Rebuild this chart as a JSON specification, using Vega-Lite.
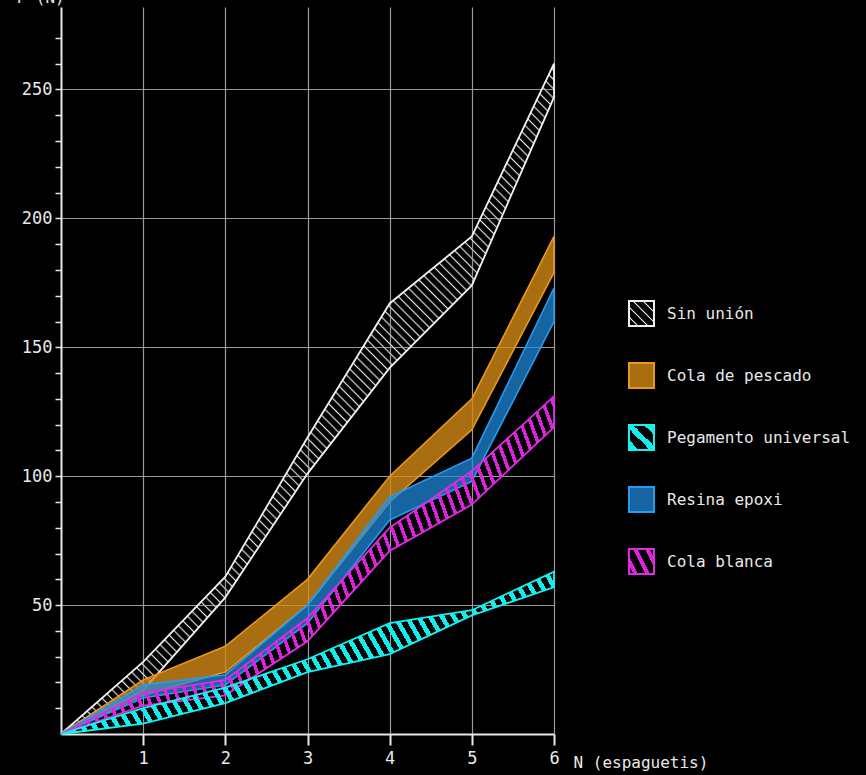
{
  "$schema": "https://vega.github.io/schema/vega-lite/v6.json",
  "width": 493,
  "height": 727,
  "autosize": {"type": "none"},
  "padding": {"left": 61, "top": 7, "right": 312, "bottom": 41},
  "background": "#000000",
  "config": {"view": {"stroke": null}, "font": "DejaVu Sans Mono"},
  "data": {
    "values": [
      {"serie": "Sin unión", "n": 0, "lo": 0, "hi": 0},
      {"serie": "Sin unión", "n": 1, "lo": 17, "hi": 28},
      {"serie": "Sin unión", "n": 2, "lo": 53, "hi": 61},
      {"serie": "Sin unión", "n": 3, "lo": 101, "hi": 115},
      {"serie": "Sin unión", "n": 4, "lo": 142, "hi": 167},
      {"serie": "Sin unión", "n": 5, "lo": 174, "hi": 193},
      {"serie": "Sin unión", "n": 6, "lo": 247, "hi": 260},
      {"serie": "Cola de pescado", "n": 0, "lo": 0, "hi": 0},
      {"serie": "Cola de pescado", "n": 1, "lo": 15, "hi": 21},
      {"serie": "Cola de pescado", "n": 2, "lo": 24, "hi": 34},
      {"serie": "Cola de pescado", "n": 3, "lo": 50, "hi": 60},
      {"serie": "Cola de pescado", "n": 4, "lo": 90, "hi": 100},
      {"serie": "Cola de pescado", "n": 5, "lo": 118, "hi": 130},
      {"serie": "Cola de pescado", "n": 6, "lo": 179, "hi": 193},
      {"serie": "Pegamento universal", "n": 0, "lo": 0, "hi": 0},
      {"serie": "Pegamento universal", "n": 1, "lo": 4, "hi": 10},
      {"serie": "Pegamento universal", "n": 2, "lo": 12, "hi": 18},
      {"serie": "Pegamento universal", "n": 3, "lo": 24, "hi": 29},
      {"serie": "Pegamento universal", "n": 4, "lo": 31, "hi": 43},
      {"serie": "Pegamento universal", "n": 5, "lo": 46, "hi": 48},
      {"serie": "Pegamento universal", "n": 6, "lo": 57, "hi": 63},
      {"serie": "Resina epoxi", "n": 0, "lo": 0, "hi": 0},
      {"serie": "Resina epoxi", "n": 1, "lo": 14, "hi": 19},
      {"serie": "Resina epoxi", "n": 2, "lo": 19, "hi": 23},
      {"serie": "Resina epoxi", "n": 3, "lo": 43, "hi": 50},
      {"serie": "Resina epoxi", "n": 4, "lo": 83, "hi": 92},
      {"serie": "Resina epoxi", "n": 5, "lo": 98, "hi": 107},
      {"serie": "Resina epoxi", "n": 6, "lo": 160, "hi": 173},
      {"serie": "Cola blanca", "n": 0, "lo": 0, "hi": 0},
      {"serie": "Cola blanca", "n": 1, "lo": 11, "hi": 16},
      {"serie": "Cola blanca", "n": 2, "lo": 15, "hi": 21},
      {"serie": "Cola blanca", "n": 3, "lo": 36, "hi": 45},
      {"serie": "Cola blanca", "n": 4, "lo": 71, "hi": 80},
      {"serie": "Cola blanca", "n": 5, "lo": 89, "hi": 102},
      {"serie": "Cola blanca", "n": 6, "lo": 119, "hi": 131}
    ]
  },
  "encoding": {
    "x": {
      "field": "n",
      "type": "quantitative",
      "scale": {"domain": [0, 6], "nice": false},
      "axis": {
        "values": [1, 2, 3, 4, 5, 6],
        "grid": true,
        "gridColor": "#9a9a9a",
        "gridWidth": 1.2,
        "domainColor": "#e8e8e8",
        "domainWidth": 2,
        "tickColor": "#e8e8e8",
        "tickWidth": 2,
        "tickSize": 11,
        "labelColor": "#e8e8e8",
        "labelFont": "DejaVu Sans Mono",
        "labelFontSize": 17,
        "labelPadding": 5,
        "labelFlush": false,
        "labelOverlap": false,
        "title": "N (espaguetis)",
        "titleFont": "DejaVu Sans Mono",
        "titleFontSize": 16,
        "titleFontWeight": "normal",
        "titleColor": "#e8e8e8",
        "titleX": 512,
        "titleY": 33,
        "titleAlign": "left",
        "titleBaseline": "alphabetic"
      }
    },
    "y": {
      "field": "hi",
      "type": "quantitative",
      "scale": {"domain": [0, 282], "nice": false},
      "axis": {
        "values": [10, 20, 30, 40, 50, 60, 70, 80, 90, 100, 110, 120, 130, 140, 150, 160, 170, 180, 190, 200, 210, 220, 230, 240, 250, 260, 270],
        "grid": true,
        "gridColor": "#9a9a9a",
        "gridWidth": 1.2,
        "gridOpacity": {"condition": {"test": "datum.value % 50 === 0", "value": 1}, "value": 0},
        "domainColor": "#e8e8e8",
        "domainWidth": 2,
        "tickColor": "#e8e8e8",
        "tickWidth": 1.5,
        "tickSize": 6,
        "labelExpr": "datum.value % 50 === 0 ? datum.label : ''",
        "labelColor": "#e8e8e8",
        "labelFont": "DejaVu Sans Mono",
        "labelFontSize": 17,
        "labelPadding": 3,
        "labelFlush": false,
        "labelOverlap": false,
        "title": "F (N)",
        "titleFont": "DejaVu Sans Mono",
        "titleFontSize": 16,
        "titleFontWeight": "normal",
        "titleColor": "#e8e8e8",
        "titleAngle": 0,
        "titleX": -45,
        "titleY": -5,
        "titleAlign": "left",
        "titleBaseline": "alphabetic"
      }
    }
  },
  "layer": [
    {
      "transform": [{"filter": "datum.serie === 'Sin unión'"}],
      "encoding": {"y2": {"field": "lo"}},
      "mark": {
        "type": "area",
        "stroke": "#f0f0f0",
        "strokeWidth": 1.8,
        "fill": {
          "gradient": "linear", "x1": 0, "y1": 1, "x2": 0.8273, "y2": -0.1268,
          "stops": [
            {"offset":0,"color":"#0000"},{"offset":0.002,"color":"#eee"},{"offset":0.004,"color":"#0000"},
            {"offset":0.008,"color":"#0000"},{"offset":0.01,"color":"#eee"},{"offset":0.012,"color":"#0000"},
            {"offset":0.016,"color":"#0000"},{"offset":0.018,"color":"#eee"},{"offset":0.02,"color":"#0000"},
            {"offset":0.024,"color":"#0000"},{"offset":0.026,"color":"#eee"},{"offset":0.028,"color":"#0000"},
            {"offset":0.032,"color":"#0000"},{"offset":0.034,"color":"#eee"},{"offset":0.036,"color":"#0000"},
            {"offset":0.04,"color":"#0000"},{"offset":0.042,"color":"#eee"},{"offset":0.044,"color":"#0000"},
            {"offset":0.048,"color":"#0000"},{"offset":0.05,"color":"#eee"},{"offset":0.052,"color":"#0000"},
            {"offset":0.056,"color":"#0000"},{"offset":0.058,"color":"#eee"},{"offset":0.06,"color":"#0000"},
            {"offset":0.064,"color":"#0000"},{"offset":0.066,"color":"#eee"},{"offset":0.068,"color":"#0000"},
            {"offset":0.072,"color":"#0000"},{"offset":0.074,"color":"#eee"},{"offset":0.076,"color":"#0000"},
            {"offset":0.08,"color":"#0000"},{"offset":0.082,"color":"#eee"},{"offset":0.084,"color":"#0000"},
            {"offset":0.088,"color":"#0000"},{"offset":0.09,"color":"#eee"},{"offset":0.092,"color":"#0000"},
            {"offset":0.096,"color":"#0000"},{"offset":0.098,"color":"#eee"},{"offset":0.1,"color":"#0000"},
            {"offset":0.104,"color":"#0000"},{"offset":0.106,"color":"#eee"},{"offset":0.108,"color":"#0000"},
            {"offset":0.112,"color":"#0000"},{"offset":0.114,"color":"#eee"},{"offset":0.116,"color":"#0000"},
            {"offset":0.12,"color":"#0000"},{"offset":0.122,"color":"#eee"},{"offset":0.124,"color":"#0000"},
            {"offset":0.128,"color":"#0000"},{"offset":0.13,"color":"#eee"},{"offset":0.132,"color":"#0000"},
            {"offset":0.136,"color":"#0000"},{"offset":0.138,"color":"#eee"},{"offset":0.14,"color":"#0000"},
            {"offset":0.144,"color":"#0000"},{"offset":0.146,"color":"#eee"},{"offset":0.148,"color":"#0000"},
            {"offset":0.152,"color":"#0000"},{"offset":0.154,"color":"#eee"},{"offset":0.156,"color":"#0000"},
            {"offset":0.16,"color":"#0000"},{"offset":0.162,"color":"#eee"},{"offset":0.164,"color":"#0000"},
            {"offset":0.168,"color":"#0000"},{"offset":0.17,"color":"#eee"},{"offset":0.172,"color":"#0000"},
            {"offset":0.176,"color":"#0000"},{"offset":0.178,"color":"#eee"},{"offset":0.18,"color":"#0000"},
            {"offset":0.184,"color":"#0000"},{"offset":0.186,"color":"#eee"},{"offset":0.188,"color":"#0000"},
            {"offset":0.192,"color":"#0000"},{"offset":0.194,"color":"#eee"},{"offset":0.196,"color":"#0000"},
            {"offset":0.2,"color":"#0000"},{"offset":0.202,"color":"#eee"},{"offset":0.204,"color":"#0000"},
            {"offset":0.208,"color":"#0000"},{"offset":0.21,"color":"#eee"},{"offset":0.212,"color":"#0000"},
            {"offset":0.216,"color":"#0000"},{"offset":0.218,"color":"#eee"},{"offset":0.22,"color":"#0000"},
            {"offset":0.224,"color":"#0000"},{"offset":0.226,"color":"#eee"},{"offset":0.228,"color":"#0000"},
            {"offset":0.232,"color":"#0000"},{"offset":0.234,"color":"#eee"},{"offset":0.236,"color":"#0000"},
            {"offset":0.24,"color":"#0000"},{"offset":0.242,"color":"#eee"},{"offset":0.244,"color":"#0000"},
            {"offset":0.248,"color":"#0000"},{"offset":0.25,"color":"#eee"},{"offset":0.252,"color":"#0000"},
            {"offset":0.256,"color":"#0000"},{"offset":0.258,"color":"#eee"},{"offset":0.26,"color":"#0000"},
            {"offset":0.264,"color":"#0000"},{"offset":0.266,"color":"#eee"},{"offset":0.268,"color":"#0000"},
            {"offset":0.272,"color":"#0000"},{"offset":0.274,"color":"#eee"},{"offset":0.276,"color":"#0000"},
            {"offset":0.28,"color":"#0000"},{"offset":0.282,"color":"#eee"},{"offset":0.284,"color":"#0000"},
            {"offset":0.288,"color":"#0000"},{"offset":0.29,"color":"#eee"},{"offset":0.292,"color":"#0000"},
            {"offset":0.296,"color":"#0000"},{"offset":0.298,"color":"#eee"},{"offset":0.3,"color":"#0000"},
            {"offset":0.304,"color":"#0000"},{"offset":0.306,"color":"#eee"},{"offset":0.308,"color":"#0000"},
            {"offset":0.312,"color":"#0000"},{"offset":0.314,"color":"#eee"},{"offset":0.316,"color":"#0000"},
            {"offset":0.32,"color":"#0000"},{"offset":0.322,"color":"#eee"},{"offset":0.324,"color":"#0000"},
            {"offset":0.328,"color":"#0000"},{"offset":0.33,"color":"#eee"},{"offset":0.332,"color":"#0000"},
            {"offset":0.336,"color":"#0000"},{"offset":0.338,"color":"#eee"},{"offset":0.34,"color":"#0000"},
            {"offset":0.344,"color":"#0000"},{"offset":0.346,"color":"#eee"},{"offset":0.348,"color":"#0000"},
            {"offset":0.352,"color":"#0000"},{"offset":0.354,"color":"#eee"},{"offset":0.356,"color":"#0000"},
            {"offset":0.36,"color":"#0000"},{"offset":0.362,"color":"#eee"},{"offset":0.364,"color":"#0000"},
            {"offset":0.368,"color":"#0000"},{"offset":0.37,"color":"#eee"},{"offset":0.372,"color":"#0000"},
            {"offset":0.376,"color":"#0000"},{"offset":0.378,"color":"#eee"},{"offset":0.38,"color":"#0000"},
            {"offset":0.384,"color":"#0000"},{"offset":0.386,"color":"#eee"},{"offset":0.388,"color":"#0000"},
            {"offset":0.392,"color":"#0000"},{"offset":0.394,"color":"#eee"},{"offset":0.396,"color":"#0000"},
            {"offset":0.4,"color":"#0000"},{"offset":0.402,"color":"#eee"},{"offset":0.404,"color":"#0000"},
            {"offset":0.408,"color":"#0000"},{"offset":0.41,"color":"#eee"},{"offset":0.412,"color":"#0000"},
            {"offset":0.416,"color":"#0000"},{"offset":0.418,"color":"#eee"},{"offset":0.42,"color":"#0000"},
            {"offset":0.424,"color":"#0000"},{"offset":0.426,"color":"#eee"},{"offset":0.428,"color":"#0000"},
            {"offset":0.432,"color":"#0000"},{"offset":0.434,"color":"#eee"},{"offset":0.436,"color":"#0000"},
            {"offset":0.44,"color":"#0000"},{"offset":0.442,"color":"#eee"},{"offset":0.444,"color":"#0000"},
            {"offset":0.448,"color":"#0000"},{"offset":0.45,"color":"#eee"},{"offset":0.452,"color":"#0000"},
            {"offset":0.456,"color":"#0000"},{"offset":0.458,"color":"#eee"},{"offset":0.46,"color":"#0000"},
            {"offset":0.464,"color":"#0000"},{"offset":0.466,"color":"#eee"},{"offset":0.468,"color":"#0000"},
            {"offset":0.472,"color":"#0000"},{"offset":0.474,"color":"#eee"},{"offset":0.476,"color":"#0000"},
            {"offset":0.48,"color":"#0000"},{"offset":0.482,"color":"#eee"},{"offset":0.484,"color":"#0000"},
            {"offset":0.488,"color":"#0000"},{"offset":0.49,"color":"#eee"},{"offset":0.492,"color":"#0000"},
            {"offset":0.496,"color":"#0000"},{"offset":0.498,"color":"#eee"},{"offset":0.5,"color":"#0000"},
            {"offset":0.504,"color":"#0000"},{"offset":0.506,"color":"#eee"},{"offset":0.508,"color":"#0000"},
            {"offset":0.512,"color":"#0000"},{"offset":0.514,"color":"#eee"},{"offset":0.516,"color":"#0000"},
            {"offset":0.52,"color":"#0000"},{"offset":0.522,"color":"#eee"},{"offset":0.524,"color":"#0000"},
            {"offset":0.528,"color":"#0000"},{"offset":0.53,"color":"#eee"},{"offset":0.532,"color":"#0000"},
            {"offset":0.536,"color":"#0000"},{"offset":0.538,"color":"#eee"},{"offset":0.54,"color":"#0000"},
            {"offset":0.544,"color":"#0000"},{"offset":0.546,"color":"#eee"},{"offset":0.548,"color":"#0000"},
            {"offset":0.552,"color":"#0000"},{"offset":0.554,"color":"#eee"},{"offset":0.556,"color":"#0000"},
            {"offset":0.56,"color":"#0000"},{"offset":0.562,"color":"#eee"},{"offset":0.564,"color":"#0000"},
            {"offset":0.568,"color":"#0000"},{"offset":0.57,"color":"#eee"},{"offset":0.572,"color":"#0000"},
            {"offset":0.576,"color":"#0000"},{"offset":0.578,"color":"#eee"},{"offset":0.58,"color":"#0000"},
            {"offset":0.584,"color":"#0000"},{"offset":0.586,"color":"#eee"},{"offset":0.588,"color":"#0000"},
            {"offset":0.592,"color":"#0000"},{"offset":0.594,"color":"#eee"},{"offset":0.596,"color":"#0000"},
            {"offset":0.6,"color":"#0000"},{"offset":0.602,"color":"#eee"},{"offset":0.604,"color":"#0000"},
            {"offset":0.608,"color":"#0000"},{"offset":0.61,"color":"#eee"},{"offset":0.612,"color":"#0000"},
            {"offset":0.616,"color":"#0000"},{"offset":0.618,"color":"#eee"},{"offset":0.62,"color":"#0000"},
            {"offset":0.624,"color":"#0000"},{"offset":0.626,"color":"#eee"},{"offset":0.628,"color":"#0000"},
            {"offset":0.632,"color":"#0000"},{"offset":0.634,"color":"#eee"},{"offset":0.636,"color":"#0000"},
            {"offset":0.64,"color":"#0000"},{"offset":0.642,"color":"#eee"},{"offset":0.644,"color":"#0000"},
            {"offset":0.648,"color":"#0000"},{"offset":0.65,"color":"#eee"},{"offset":0.652,"color":"#0000"},
            {"offset":0.656,"color":"#0000"},{"offset":0.658,"color":"#eee"},{"offset":0.66,"color":"#0000"},
            {"offset":0.664,"color":"#0000"},{"offset":0.666,"color":"#eee"},{"offset":0.668,"color":"#0000"},
            {"offset":0.672,"color":"#0000"},{"offset":0.674,"color":"#eee"},{"offset":0.676,"color":"#0000"},
            {"offset":0.68,"color":"#0000"},{"offset":0.682,"color":"#eee"},{"offset":0.684,"color":"#0000"},
            {"offset":0.688,"color":"#0000"},{"offset":0.69,"color":"#eee"},{"offset":0.692,"color":"#0000"},
            {"offset":0.696,"color":"#0000"},{"offset":0.698,"color":"#eee"},{"offset":0.7,"color":"#0000"},
            {"offset":0.704,"color":"#0000"},{"offset":0.706,"color":"#eee"},{"offset":0.708,"color":"#0000"},
            {"offset":0.712,"color":"#0000"},{"offset":0.714,"color":"#eee"},{"offset":0.716,"color":"#0000"},
            {"offset":0.72,"color":"#0000"},{"offset":0.722,"color":"#eee"},{"offset":0.724,"color":"#0000"},
            {"offset":0.728,"color":"#0000"},{"offset":0.73,"color":"#eee"},{"offset":0.732,"color":"#0000"},
            {"offset":0.736,"color":"#0000"},{"offset":0.738,"color":"#eee"},{"offset":0.74,"color":"#0000"},
            {"offset":0.744,"color":"#0000"},{"offset":0.746,"color":"#eee"},{"offset":0.748,"color":"#0000"},
            {"offset":0.752,"color":"#0000"},{"offset":0.754,"color":"#eee"},{"offset":0.756,"color":"#0000"},
            {"offset":0.76,"color":"#0000"},{"offset":0.762,"color":"#eee"},{"offset":0.764,"color":"#0000"},
            {"offset":0.768,"color":"#0000"},{"offset":0.77,"color":"#eee"},{"offset":0.772,"color":"#0000"},
            {"offset":0.776,"color":"#0000"},{"offset":0.778,"color":"#eee"},{"offset":0.78,"color":"#0000"},
            {"offset":0.784,"color":"#0000"},{"offset":0.786,"color":"#eee"},{"offset":0.788,"color":"#0000"},
            {"offset":0.792,"color":"#0000"},{"offset":0.794,"color":"#eee"},{"offset":0.796,"color":"#0000"},
            {"offset":0.8,"color":"#0000"},{"offset":0.802,"color":"#eee"},{"offset":0.804,"color":"#0000"},
            {"offset":0.808,"color":"#0000"},{"offset":0.81,"color":"#eee"},{"offset":0.812,"color":"#0000"},
            {"offset":0.816,"color":"#0000"},{"offset":0.818,"color":"#eee"},{"offset":0.82,"color":"#0000"},
            {"offset":0.824,"color":"#0000"},{"offset":0.826,"color":"#eee"},{"offset":0.828,"color":"#0000"},
            {"offset":0.832,"color":"#0000"},{"offset":0.834,"color":"#eee"},{"offset":0.836,"color":"#0000"},
            {"offset":0.84,"color":"#0000"},{"offset":0.842,"color":"#eee"},{"offset":0.844,"color":"#0000"},
            {"offset":0.848,"color":"#0000"},{"offset":0.85,"color":"#eee"},{"offset":0.852,"color":"#0000"},
            {"offset":0.856,"color":"#0000"},{"offset":0.858,"color":"#eee"},{"offset":0.86,"color":"#0000"},
            {"offset":0.864,"color":"#0000"},{"offset":0.866,"color":"#eee"},{"offset":0.868,"color":"#0000"},
            {"offset":0.872,"color":"#0000"},{"offset":0.874,"color":"#eee"},{"offset":0.876,"color":"#0000"},
            {"offset":0.88,"color":"#0000"},{"offset":0.882,"color":"#eee"},{"offset":0.884,"color":"#0000"},
            {"offset":0.888,"color":"#0000"},{"offset":0.89,"color":"#eee"},{"offset":0.892,"color":"#0000"},
            {"offset":0.896,"color":"#0000"},{"offset":0.898,"color":"#eee"},{"offset":0.9,"color":"#0000"},
            {"offset":0.904,"color":"#0000"},{"offset":0.906,"color":"#eee"},{"offset":0.908,"color":"#0000"},
            {"offset":0.912,"color":"#0000"},{"offset":0.914,"color":"#eee"},{"offset":0.916,"color":"#0000"},
            {"offset":0.92,"color":"#0000"},{"offset":0.922,"color":"#eee"},{"offset":0.924,"color":"#0000"},
            {"offset":0.928,"color":"#0000"},{"offset":0.93,"color":"#eee"},{"offset":0.932,"color":"#0000"},
            {"offset":0.936,"color":"#0000"},{"offset":0.938,"color":"#eee"},{"offset":0.94,"color":"#0000"},
            {"offset":0.944,"color":"#0000"},{"offset":0.946,"color":"#eee"},{"offset":0.948,"color":"#0000"},
            {"offset":0.952,"color":"#0000"},{"offset":0.954,"color":"#eee"},{"offset":0.956,"color":"#0000"},
            {"offset":0.96,"color":"#0000"},{"offset":0.962,"color":"#eee"},{"offset":0.964,"color":"#0000"},
            {"offset":0.968,"color":"#0000"},{"offset":0.97,"color":"#eee"},{"offset":0.972,"color":"#0000"},
            {"offset":0.976,"color":"#0000"},{"offset":0.978,"color":"#eee"},{"offset":0.98,"color":"#0000"},
            {"offset":0.984,"color":"#0000"},{"offset":0.986,"color":"#eee"},{"offset":0.988,"color":"#0000"},
            {"offset":0.992,"color":"#0000"},{"offset":0.994,"color":"#eee"},{"offset":0.996,"color":"#0000"}
          ]
        }
      }
    },
    {
      "transform": [{"filter": "datum.serie === 'Cola de pescado'"}],
      "encoding": {"y2": {"field": "lo"}},
      "mark": {"type": "area", "stroke": "#e8991c", "strokeWidth": 1.6, "fill": "#d38a17", "fillOpacity": 0.8}
    },
    {
      "transform": [{"filter": "datum.serie === 'Resina epoxi'"}],
      "encoding": {"y2": {"field": "lo"}},
      "mark": {"type": "area", "stroke": "#259cf0", "strokeWidth": 1.6, "fill": "#1e8ae0", "fillOpacity": 0.72}
    },
    {
      "transform": [{"filter": "datum.serie === 'Cola blanca'"}],
      "encoding": {"y2": {"field": "lo"}},
      "mark": {
        "type": "area",
        "stroke": "#e02ce0",
        "strokeWidth": 1.8,
        "fill": {
          "gradient": "linear", "x1": 0, "y1": 1, "x2": 1.176, "y2": 0.706,
          "stops": [
            {"offset":0,"color":"#d2d"},{"offset":0.006,"color":"#d2d"},{"offset":0.006,"color":"#0000"},{"offset":0.016,"color":"#0000"},
            {"offset":0.016,"color":"#d2d"},{"offset":0.022,"color":"#d2d"},{"offset":0.022,"color":"#0000"},{"offset":0.032,"color":"#0000"},
            {"offset":0.032,"color":"#d2d"},{"offset":0.038,"color":"#d2d"},{"offset":0.038,"color":"#0000"},{"offset":0.048,"color":"#0000"},
            {"offset":0.048,"color":"#d2d"},{"offset":0.054,"color":"#d2d"},{"offset":0.054,"color":"#0000"},{"offset":0.064,"color":"#0000"},
            {"offset":0.064,"color":"#d2d"},{"offset":0.07,"color":"#d2d"},{"offset":0.07,"color":"#0000"},{"offset":0.08,"color":"#0000"},
            {"offset":0.08,"color":"#d2d"},{"offset":0.086,"color":"#d2d"},{"offset":0.086,"color":"#0000"},{"offset":0.096,"color":"#0000"},
            {"offset":0.096,"color":"#d2d"},{"offset":0.102,"color":"#d2d"},{"offset":0.102,"color":"#0000"},{"offset":0.112,"color":"#0000"},
            {"offset":0.112,"color":"#d2d"},{"offset":0.118,"color":"#d2d"},{"offset":0.118,"color":"#0000"},{"offset":0.128,"color":"#0000"},
            {"offset":0.128,"color":"#d2d"},{"offset":0.134,"color":"#d2d"},{"offset":0.134,"color":"#0000"},{"offset":0.144,"color":"#0000"},
            {"offset":0.144,"color":"#d2d"},{"offset":0.15,"color":"#d2d"},{"offset":0.15,"color":"#0000"},{"offset":0.16,"color":"#0000"},
            {"offset":0.16,"color":"#d2d"},{"offset":0.166,"color":"#d2d"},{"offset":0.166,"color":"#0000"},{"offset":0.176,"color":"#0000"},
            {"offset":0.176,"color":"#d2d"},{"offset":0.182,"color":"#d2d"},{"offset":0.182,"color":"#0000"},{"offset":0.192,"color":"#0000"},
            {"offset":0.192,"color":"#d2d"},{"offset":0.198,"color":"#d2d"},{"offset":0.198,"color":"#0000"},{"offset":0.208,"color":"#0000"},
            {"offset":0.208,"color":"#d2d"},{"offset":0.214,"color":"#d2d"},{"offset":0.214,"color":"#0000"},{"offset":0.224,"color":"#0000"},
            {"offset":0.224,"color":"#d2d"},{"offset":0.23,"color":"#d2d"},{"offset":0.23,"color":"#0000"},{"offset":0.24,"color":"#0000"},
            {"offset":0.24,"color":"#d2d"},{"offset":0.246,"color":"#d2d"},{"offset":0.246,"color":"#0000"},{"offset":0.256,"color":"#0000"},
            {"offset":0.256,"color":"#d2d"},{"offset":0.262,"color":"#d2d"},{"offset":0.262,"color":"#0000"},{"offset":0.272,"color":"#0000"},
            {"offset":0.272,"color":"#d2d"},{"offset":0.278,"color":"#d2d"},{"offset":0.278,"color":"#0000"},{"offset":0.288,"color":"#0000"},
            {"offset":0.288,"color":"#d2d"},{"offset":0.294,"color":"#d2d"},{"offset":0.294,"color":"#0000"},{"offset":0.304,"color":"#0000"},
            {"offset":0.304,"color":"#d2d"},{"offset":0.31,"color":"#d2d"},{"offset":0.31,"color":"#0000"},{"offset":0.32,"color":"#0000"},
            {"offset":0.32,"color":"#d2d"},{"offset":0.326,"color":"#d2d"},{"offset":0.326,"color":"#0000"},{"offset":0.336,"color":"#0000"},
            {"offset":0.336,"color":"#d2d"},{"offset":0.342,"color":"#d2d"},{"offset":0.342,"color":"#0000"},{"offset":0.352,"color":"#0000"},
            {"offset":0.352,"color":"#d2d"},{"offset":0.358,"color":"#d2d"},{"offset":0.358,"color":"#0000"},{"offset":0.368,"color":"#0000"},
            {"offset":0.368,"color":"#d2d"},{"offset":0.374,"color":"#d2d"},{"offset":0.374,"color":"#0000"},{"offset":0.384,"color":"#0000"},
            {"offset":0.384,"color":"#d2d"},{"offset":0.39,"color":"#d2d"},{"offset":0.39,"color":"#0000"},{"offset":0.4,"color":"#0000"},
            {"offset":0.4,"color":"#d2d"},{"offset":0.406,"color":"#d2d"},{"offset":0.406,"color":"#0000"},{"offset":0.416,"color":"#0000"},
            {"offset":0.416,"color":"#d2d"},{"offset":0.422,"color":"#d2d"},{"offset":0.422,"color":"#0000"},{"offset":0.432,"color":"#0000"},
            {"offset":0.432,"color":"#d2d"},{"offset":0.438,"color":"#d2d"},{"offset":0.438,"color":"#0000"},{"offset":0.448,"color":"#0000"},
            {"offset":0.448,"color":"#d2d"},{"offset":0.454,"color":"#d2d"},{"offset":0.454,"color":"#0000"},{"offset":0.464,"color":"#0000"},
            {"offset":0.464,"color":"#d2d"},{"offset":0.47,"color":"#d2d"},{"offset":0.47,"color":"#0000"},{"offset":0.48,"color":"#0000"},
            {"offset":0.48,"color":"#d2d"},{"offset":0.486,"color":"#d2d"},{"offset":0.486,"color":"#0000"},{"offset":0.496,"color":"#0000"},
            {"offset":0.496,"color":"#d2d"},{"offset":0.502,"color":"#d2d"},{"offset":0.502,"color":"#0000"},{"offset":0.512,"color":"#0000"},
            {"offset":0.512,"color":"#d2d"},{"offset":0.518,"color":"#d2d"},{"offset":0.518,"color":"#0000"},{"offset":0.528,"color":"#0000"},
            {"offset":0.528,"color":"#d2d"},{"offset":0.534,"color":"#d2d"},{"offset":0.534,"color":"#0000"},{"offset":0.544,"color":"#0000"},
            {"offset":0.544,"color":"#d2d"},{"offset":0.55,"color":"#d2d"},{"offset":0.55,"color":"#0000"},{"offset":0.56,"color":"#0000"},
            {"offset":0.56,"color":"#d2d"},{"offset":0.566,"color":"#d2d"},{"offset":0.566,"color":"#0000"},{"offset":0.576,"color":"#0000"},
            {"offset":0.576,"color":"#d2d"},{"offset":0.582,"color":"#d2d"},{"offset":0.582,"color":"#0000"},{"offset":0.592,"color":"#0000"},
            {"offset":0.592,"color":"#d2d"},{"offset":0.598,"color":"#d2d"},{"offset":0.598,"color":"#0000"},{"offset":0.608,"color":"#0000"},
            {"offset":0.608,"color":"#d2d"},{"offset":0.614,"color":"#d2d"},{"offset":0.614,"color":"#0000"},{"offset":0.624,"color":"#0000"},
            {"offset":0.624,"color":"#d2d"},{"offset":0.63,"color":"#d2d"},{"offset":0.63,"color":"#0000"},{"offset":0.64,"color":"#0000"},
            {"offset":0.64,"color":"#d2d"},{"offset":0.646,"color":"#d2d"},{"offset":0.646,"color":"#0000"},{"offset":0.656,"color":"#0000"},
            {"offset":0.656,"color":"#d2d"},{"offset":0.662,"color":"#d2d"},{"offset":0.662,"color":"#0000"},{"offset":0.672,"color":"#0000"},
            {"offset":0.672,"color":"#d2d"},{"offset":0.678,"color":"#d2d"},{"offset":0.678,"color":"#0000"},{"offset":0.688,"color":"#0000"},
            {"offset":0.688,"color":"#d2d"},{"offset":0.694,"color":"#d2d"},{"offset":0.694,"color":"#0000"},{"offset":0.704,"color":"#0000"},
            {"offset":0.704,"color":"#d2d"},{"offset":0.71,"color":"#d2d"},{"offset":0.71,"color":"#0000"},{"offset":0.72,"color":"#0000"},
            {"offset":0.72,"color":"#d2d"},{"offset":0.726,"color":"#d2d"},{"offset":0.726,"color":"#0000"},{"offset":0.736,"color":"#0000"},
            {"offset":0.736,"color":"#d2d"},{"offset":0.742,"color":"#d2d"},{"offset":0.742,"color":"#0000"},{"offset":0.752,"color":"#0000"},
            {"offset":0.752,"color":"#d2d"},{"offset":0.758,"color":"#d2d"},{"offset":0.758,"color":"#0000"},{"offset":0.768,"color":"#0000"},
            {"offset":0.768,"color":"#d2d"},{"offset":0.774,"color":"#d2d"},{"offset":0.774,"color":"#0000"},{"offset":0.784,"color":"#0000"},
            {"offset":0.784,"color":"#d2d"},{"offset":0.79,"color":"#d2d"},{"offset":0.79,"color":"#0000"},{"offset":0.8,"color":"#0000"},
            {"offset":0.8,"color":"#d2d"},{"offset":0.806,"color":"#d2d"},{"offset":0.806,"color":"#0000"},{"offset":0.816,"color":"#0000"},
            {"offset":0.816,"color":"#d2d"},{"offset":0.822,"color":"#d2d"},{"offset":0.822,"color":"#0000"},{"offset":0.832,"color":"#0000"},
            {"offset":0.832,"color":"#d2d"},{"offset":0.838,"color":"#d2d"},{"offset":0.838,"color":"#0000"},{"offset":0.848,"color":"#0000"},
            {"offset":0.848,"color":"#d2d"},{"offset":0.854,"color":"#d2d"},{"offset":0.854,"color":"#0000"},{"offset":0.864,"color":"#0000"},
            {"offset":0.864,"color":"#d2d"},{"offset":0.87,"color":"#d2d"},{"offset":0.87,"color":"#0000"},{"offset":0.88,"color":"#0000"},
            {"offset":0.88,"color":"#d2d"},{"offset":0.886,"color":"#d2d"},{"offset":0.886,"color":"#0000"},{"offset":0.896,"color":"#0000"},
            {"offset":0.896,"color":"#d2d"},{"offset":0.902,"color":"#d2d"},{"offset":0.902,"color":"#0000"},{"offset":0.912,"color":"#0000"},
            {"offset":0.912,"color":"#d2d"},{"offset":0.918,"color":"#d2d"},{"offset":0.918,"color":"#0000"},{"offset":0.928,"color":"#0000"},
            {"offset":0.928,"color":"#d2d"},{"offset":0.934,"color":"#d2d"},{"offset":0.934,"color":"#0000"},{"offset":0.944,"color":"#0000"},
            {"offset":0.944,"color":"#d2d"},{"offset":0.95,"color":"#d2d"},{"offset":0.95,"color":"#0000"},{"offset":0.96,"color":"#0000"},
            {"offset":0.96,"color":"#d2d"},{"offset":0.966,"color":"#d2d"},{"offset":0.966,"color":"#0000"},{"offset":0.976,"color":"#0000"},
            {"offset":0.976,"color":"#d2d"},{"offset":0.982,"color":"#d2d"},{"offset":0.982,"color":"#0000"},{"offset":0.992,"color":"#0000"},
            {"offset":0.992,"color":"#d2d"},{"offset":0.998,"color":"#d2d"},{"offset":0.998,"color":"#0000"},{"offset":1,"color":"#0000"}
          ]
        }
      }
    },
    {
      "transform": [{"filter": "datum.serie === 'Pegamento universal'"}],
      "encoding": {"y2": {"field": "lo"}},
      "mark": {
        "type": "area",
        "stroke": "#16f0ee",
        "strokeWidth": 1.8,
        "fill": {
          "gradient": "linear", "x1": 0, "y1": 1, "x2": 1.149, "y2": 0.782,
          "stops": [
            {"offset":0,"color":"#1ee"},{"offset":0.009,"color":"#1ee"},{"offset":0.009,"color":"#0000"},{"offset":0.02,"color":"#0000"},
            {"offset":0.02,"color":"#1ee"},{"offset":0.029,"color":"#1ee"},{"offset":0.029,"color":"#0000"},{"offset":0.04,"color":"#0000"},
            {"offset":0.04,"color":"#1ee"},{"offset":0.049,"color":"#1ee"},{"offset":0.049,"color":"#0000"},{"offset":0.06,"color":"#0000"},
            {"offset":0.06,"color":"#1ee"},{"offset":0.069,"color":"#1ee"},{"offset":0.069,"color":"#0000"},{"offset":0.08,"color":"#0000"},
            {"offset":0.08,"color":"#1ee"},{"offset":0.089,"color":"#1ee"},{"offset":0.089,"color":"#0000"},{"offset":0.1,"color":"#0000"},
            {"offset":0.1,"color":"#1ee"},{"offset":0.109,"color":"#1ee"},{"offset":0.109,"color":"#0000"},{"offset":0.12,"color":"#0000"},
            {"offset":0.12,"color":"#1ee"},{"offset":0.129,"color":"#1ee"},{"offset":0.129,"color":"#0000"},{"offset":0.14,"color":"#0000"},
            {"offset":0.14,"color":"#1ee"},{"offset":0.149,"color":"#1ee"},{"offset":0.149,"color":"#0000"},{"offset":0.16,"color":"#0000"},
            {"offset":0.16,"color":"#1ee"},{"offset":0.169,"color":"#1ee"},{"offset":0.169,"color":"#0000"},{"offset":0.18,"color":"#0000"},
            {"offset":0.18,"color":"#1ee"},{"offset":0.189,"color":"#1ee"},{"offset":0.189,"color":"#0000"},{"offset":0.2,"color":"#0000"},
            {"offset":0.2,"color":"#1ee"},{"offset":0.209,"color":"#1ee"},{"offset":0.209,"color":"#0000"},{"offset":0.22,"color":"#0000"},
            {"offset":0.22,"color":"#1ee"},{"offset":0.229,"color":"#1ee"},{"offset":0.229,"color":"#0000"},{"offset":0.24,"color":"#0000"},
            {"offset":0.24,"color":"#1ee"},{"offset":0.249,"color":"#1ee"},{"offset":0.249,"color":"#0000"},{"offset":0.26,"color":"#0000"},
            {"offset":0.26,"color":"#1ee"},{"offset":0.269,"color":"#1ee"},{"offset":0.269,"color":"#0000"},{"offset":0.28,"color":"#0000"},
            {"offset":0.28,"color":"#1ee"},{"offset":0.289,"color":"#1ee"},{"offset":0.289,"color":"#0000"},{"offset":0.3,"color":"#0000"},
            {"offset":0.3,"color":"#1ee"},{"offset":0.309,"color":"#1ee"},{"offset":0.309,"color":"#0000"},{"offset":0.32,"color":"#0000"},
            {"offset":0.32,"color":"#1ee"},{"offset":0.329,"color":"#1ee"},{"offset":0.329,"color":"#0000"},{"offset":0.34,"color":"#0000"},
            {"offset":0.34,"color":"#1ee"},{"offset":0.349,"color":"#1ee"},{"offset":0.349,"color":"#0000"},{"offset":0.36,"color":"#0000"},
            {"offset":0.36,"color":"#1ee"},{"offset":0.369,"color":"#1ee"},{"offset":0.369,"color":"#0000"},{"offset":0.38,"color":"#0000"},
            {"offset":0.38,"color":"#1ee"},{"offset":0.389,"color":"#1ee"},{"offset":0.389,"color":"#0000"},{"offset":0.4,"color":"#0000"},
            {"offset":0.4,"color":"#1ee"},{"offset":0.409,"color":"#1ee"},{"offset":0.409,"color":"#0000"},{"offset":0.42,"color":"#0000"},
            {"offset":0.42,"color":"#1ee"},{"offset":0.429,"color":"#1ee"},{"offset":0.429,"color":"#0000"},{"offset":0.44,"color":"#0000"},
            {"offset":0.44,"color":"#1ee"},{"offset":0.449,"color":"#1ee"},{"offset":0.449,"color":"#0000"},{"offset":0.46,"color":"#0000"},
            {"offset":0.46,"color":"#1ee"},{"offset":0.469,"color":"#1ee"},{"offset":0.469,"color":"#0000"},{"offset":0.48,"color":"#0000"},
            {"offset":0.48,"color":"#1ee"},{"offset":0.489,"color":"#1ee"},{"offset":0.489,"color":"#0000"},{"offset":0.5,"color":"#0000"},
            {"offset":0.5,"color":"#1ee"},{"offset":0.509,"color":"#1ee"},{"offset":0.509,"color":"#0000"},{"offset":0.52,"color":"#0000"},
            {"offset":0.52,"color":"#1ee"},{"offset":0.529,"color":"#1ee"},{"offset":0.529,"color":"#0000"},{"offset":0.54,"color":"#0000"},
            {"offset":0.54,"color":"#1ee"},{"offset":0.549,"color":"#1ee"},{"offset":0.549,"color":"#0000"},{"offset":0.56,"color":"#0000"},
            {"offset":0.56,"color":"#1ee"},{"offset":0.569,"color":"#1ee"},{"offset":0.569,"color":"#0000"},{"offset":0.58,"color":"#0000"},
            {"offset":0.58,"color":"#1ee"},{"offset":0.589,"color":"#1ee"},{"offset":0.589,"color":"#0000"},{"offset":0.6,"color":"#0000"},
            {"offset":0.6,"color":"#1ee"},{"offset":0.609,"color":"#1ee"},{"offset":0.609,"color":"#0000"},{"offset":0.62,"color":"#0000"},
            {"offset":0.62,"color":"#1ee"},{"offset":0.629,"color":"#1ee"},{"offset":0.629,"color":"#0000"},{"offset":0.64,"color":"#0000"},
            {"offset":0.64,"color":"#1ee"},{"offset":0.649,"color":"#1ee"},{"offset":0.649,"color":"#0000"},{"offset":0.66,"color":"#0000"},
            {"offset":0.66,"color":"#1ee"},{"offset":0.669,"color":"#1ee"},{"offset":0.669,"color":"#0000"},{"offset":0.68,"color":"#0000"},
            {"offset":0.68,"color":"#1ee"},{"offset":0.689,"color":"#1ee"},{"offset":0.689,"color":"#0000"},{"offset":0.7,"color":"#0000"},
            {"offset":0.7,"color":"#1ee"},{"offset":0.709,"color":"#1ee"},{"offset":0.709,"color":"#0000"},{"offset":0.72,"color":"#0000"},
            {"offset":0.72,"color":"#1ee"},{"offset":0.729,"color":"#1ee"},{"offset":0.729,"color":"#0000"},{"offset":0.74,"color":"#0000"},
            {"offset":0.74,"color":"#1ee"},{"offset":0.749,"color":"#1ee"},{"offset":0.749,"color":"#0000"},{"offset":0.76,"color":"#0000"},
            {"offset":0.76,"color":"#1ee"},{"offset":0.769,"color":"#1ee"},{"offset":0.769,"color":"#0000"},{"offset":0.78,"color":"#0000"},
            {"offset":0.78,"color":"#1ee"},{"offset":0.789,"color":"#1ee"},{"offset":0.789,"color":"#0000"},{"offset":0.8,"color":"#0000"},
            {"offset":0.8,"color":"#1ee"},{"offset":0.809,"color":"#1ee"},{"offset":0.809,"color":"#0000"},{"offset":0.82,"color":"#0000"},
            {"offset":0.82,"color":"#1ee"},{"offset":0.829,"color":"#1ee"},{"offset":0.829,"color":"#0000"},{"offset":0.84,"color":"#0000"},
            {"offset":0.84,"color":"#1ee"},{"offset":0.849,"color":"#1ee"},{"offset":0.849,"color":"#0000"},{"offset":0.86,"color":"#0000"},
            {"offset":0.86,"color":"#1ee"},{"offset":0.869,"color":"#1ee"},{"offset":0.869,"color":"#0000"},{"offset":0.88,"color":"#0000"},
            {"offset":0.88,"color":"#1ee"},{"offset":0.889,"color":"#1ee"},{"offset":0.889,"color":"#0000"},{"offset":0.9,"color":"#0000"},
            {"offset":0.9,"color":"#1ee"},{"offset":0.909,"color":"#1ee"},{"offset":0.909,"color":"#0000"},{"offset":0.92,"color":"#0000"},
            {"offset":0.92,"color":"#1ee"},{"offset":0.929,"color":"#1ee"},{"offset":0.929,"color":"#0000"},{"offset":0.94,"color":"#0000"},
            {"offset":0.94,"color":"#1ee"},{"offset":0.949,"color":"#1ee"},{"offset":0.949,"color":"#0000"},{"offset":0.96,"color":"#0000"},
            {"offset":0.96,"color":"#1ee"},{"offset":0.969,"color":"#1ee"},{"offset":0.969,"color":"#0000"},{"offset":0.98,"color":"#0000"},
            {"offset":0.98,"color":"#1ee"},{"offset":0.989,"color":"#1ee"},{"offset":0.989,"color":"#0000"},{"offset":1,"color":"#0000"}
          ]
        }
      }
    },
    {
      "mark": {"type": "point", "shape": "square", "opacity": 0},
      "encoding": {
        "fill": {
          "field": "serie",
          "type": "nominal",
          "scale": {
            "domain": ["Sin unión", "Cola de pescado", "Pegamento universal", "Resina epoxi", "Cola blanca"],
            "range": [
              {"expr": "{gradient:'linear',x1:0,y1:1,x2:1,y2:0,stops:[{offset:0.14,color:'#0000'},{offset:0.18,color:'#eee'},{offset:0.22,color:'#0000'},{offset:0.34,color:'#0000'},{offset:0.38,color:'#eee'},{offset:0.42,color:'#0000'},{offset:0.54,color:'#0000'},{offset:0.58,color:'#eee'},{offset:0.62,color:'#0000'},{offset:0.74,color:'#0000'},{offset:0.78,color:'#eee'},{offset:0.82,color:'#0000'}]}"},
              "rgba(211,138,23,0.8)",
              {"expr": "{gradient:'linear',x1:0,y1:1,x2:1,y2:0,stops:[{offset:0.05,color:'#0000'},{offset:0.05,color:'#1ee'},{offset:0.2,color:'#1ee'},{offset:0.2,color:'#0000'},{offset:0.42,color:'#0000'},{offset:0.42,color:'#1ee'},{offset:0.58,color:'#1ee'},{offset:0.58,color:'#0000'},{offset:0.8,color:'#0000'},{offset:0.8,color:'#1ee'},{offset:0.95,color:'#1ee'},{offset:0.95,color:'#0000'}]}"},
              "rgba(30,138,224,0.72)",
              {"expr": "{gradient:'linear',x1:0,y1:1,x2:1.2,y2:0.4,stops:[{offset:0.12,color:'#0000'},{offset:0.12,color:'#d2d'},{offset:0.24,color:'#d2d'},{offset:0.24,color:'#0000'},{offset:0.44,color:'#0000'},{offset:0.44,color:'#d2d'},{offset:0.56,color:'#d2d'},{offset:0.56,color:'#0000'},{offset:0.76,color:'#0000'},{offset:0.76,color:'#d2d'},{offset:0.88,color:'#d2d'},{offset:0.88,color:'#0000'}]}"}
            ]
          },
          "legend": {
            "orient": "none",
            "legendX": 567,
            "legendY": 293,
            "title": null,
            "padding": 0,
            "symbolType": "square",
            "symbolSize": 625,
            "symbolStrokeWidth": 2,
            "symbolOpacity": 1,
            "labelFont": "DejaVu Sans Mono",
            "labelFontSize": 16,
            "labelColor": "#e8e8e8",
            "labelOffset": 12,
            "labelLimit": 300,
            "rowPadding": 29
          }
        },
        "stroke": {
          "field": "serie",
          "type": "nominal",
          "scale": {
            "domain": ["Sin unión", "Cola de pescado", "Pegamento universal", "Resina epoxi", "Cola blanca"],
            "range": ["#f0f0f0", "#e8991c", "#16f0ee", "#259cf0", "#e02ce0"]
          },
          "legend": {
            "orient": "none",
            "legendX": 567,
            "legendY": 293,
            "title": null,
            "padding": 0,
            "symbolType": "square",
            "symbolSize": 625,
            "symbolStrokeWidth": 2,
            "symbolOpacity": 1,
            "labelFont": "DejaVu Sans Mono",
            "labelFontSize": 16,
            "labelColor": "#e8e8e8",
            "labelOffset": 12,
            "labelLimit": 300,
            "rowPadding": 29
          }
        }
      }
    }
  ]
}
